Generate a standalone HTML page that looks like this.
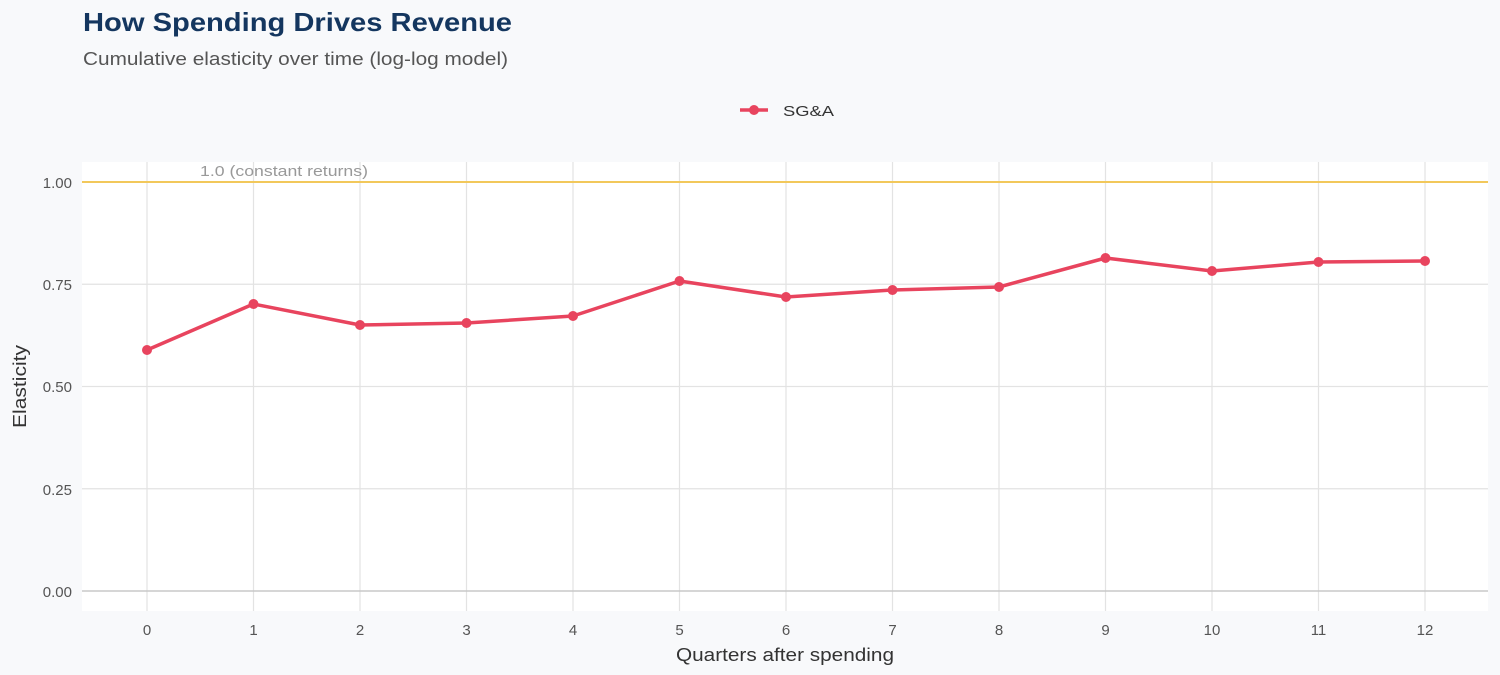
<!DOCTYPE html>
<html><head><meta charset="utf-8"><style>
html,body{margin:0;padding:0;background:#f8f9fb;}
svg{display:block;font-family:"Liberation Sans",sans-serif;}
</style></head><body>
<svg width="1500" height="675" viewBox="0 0 1500 675">
<rect width="1500" height="675" fill="#f8f9fb"/>
<text x="83" y="31" font-size="26" font-weight="bold" fill="#14365f" textLength="429" lengthAdjust="spacingAndGlyphs">How Spending Drives Revenue</text>
<text x="83" y="65" font-size="18" fill="#555" textLength="425" lengthAdjust="spacingAndGlyphs">Cumulative elasticity over time (log-log model)</text>
<line x1="740" y1="110" x2="768" y2="110" stroke="#e8445e" stroke-width="3.5"/>
<circle cx="754" cy="110" r="5" fill="#e8445e"/>
<text x="783" y="116" font-size="15" fill="#333" textLength="51" lengthAdjust="spacingAndGlyphs">SG&amp;A</text>
<rect x="82" y="162" width="1406" height="449" fill="#fff"/>
<g stroke="#e3e3e3" stroke-width="1.2">
<line x1="82" y1="182" x2="1488" y2="182"/><line x1="82" y1="284.25" x2="1488" y2="284.25"/><line x1="82" y1="386.5" x2="1488" y2="386.5"/><line x1="82" y1="488.75" x2="1488" y2="488.75"/>
<line x1="147" y1="162" x2="147" y2="611"/><line x1="253.5" y1="162" x2="253.5" y2="611"/><line x1="360" y1="162" x2="360" y2="611"/><line x1="466.5" y1="162" x2="466.5" y2="611"/><line x1="573" y1="162" x2="573" y2="611"/><line x1="679.5" y1="162" x2="679.5" y2="611"/><line x1="786" y1="162" x2="786" y2="611"/><line x1="892.5" y1="162" x2="892.5" y2="611"/><line x1="999" y1="162" x2="999" y2="611"/><line x1="1105.5" y1="162" x2="1105.5" y2="611"/><line x1="1212" y1="162" x2="1212" y2="611"/><line x1="1318.5" y1="162" x2="1318.5" y2="611"/><line x1="1425" y1="162" x2="1425" y2="611"/>
</g>
<line x1="82" y1="591" x2="1488" y2="591" stroke="#c8c8c8" stroke-width="1.5"/>
<line x1="82" y1="182" x2="1488" y2="182" stroke="#f2c85b" stroke-width="2"/>
<text x="200" y="176" font-size="15" fill="#999" textLength="168" lengthAdjust="spacingAndGlyphs">1.0 (constant returns)</text>
<g font-size="15" fill="#555" text-anchor="end">
<text x="72" y="188">1.00</text><text x="72" y="290">0.75</text><text x="72" y="392">0.50</text><text x="72" y="495">0.25</text><text x="72" y="597">0.00</text>
</g>
<g font-size="15" fill="#555" text-anchor="middle">
<text x="147" y="635">0</text><text x="253.5" y="635">1</text><text x="360" y="635">2</text><text x="466.5" y="635">3</text><text x="573" y="635">4</text><text x="679.5" y="635">5</text><text x="786" y="635">6</text><text x="892.5" y="635">7</text><text x="999" y="635">8</text><text x="1105.5" y="635">9</text><text x="1212" y="635">10</text><text x="1318.5" y="635">11</text><text x="1425" y="635">12</text>
</g>
<text x="676" y="661" font-size="18" fill="#333" textLength="218" lengthAdjust="spacingAndGlyphs">Quarters after spending</text>
<text transform="translate(26,428) rotate(-90)" font-size="18" fill="#333" textLength="83" lengthAdjust="spacingAndGlyphs">Elasticity</text>
<polyline fill="none" stroke="#e8445e" stroke-width="3.5" stroke-linejoin="round" points="147,350 253.5,304 360,325 466.5,323 573,316 679.5,281 786,297 892.5,290 999,287 1105.5,258 1212,271 1318.5,262 1425,261"/>
<g fill="#e8445e">
<circle cx="147" cy="350" r="5"/><circle cx="253.5" cy="304" r="5"/><circle cx="360" cy="325" r="5"/><circle cx="466.5" cy="323" r="5"/><circle cx="573" cy="316" r="5"/><circle cx="679.5" cy="281" r="5"/><circle cx="786" cy="297" r="5"/><circle cx="892.5" cy="290" r="5"/><circle cx="999" cy="287" r="5"/><circle cx="1105.5" cy="258" r="5"/><circle cx="1212" cy="271" r="5"/><circle cx="1318.5" cy="262" r="5"/><circle cx="1425" cy="261" r="5"/>
</g>
</svg>
</body></html>
